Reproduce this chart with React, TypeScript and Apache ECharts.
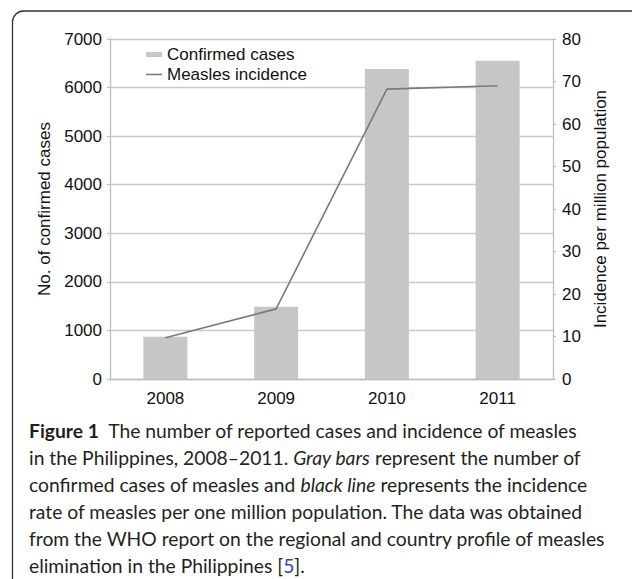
import React, { useEffect, useRef } from "react";
import * as echarts from "echarts";

const years = ["2008", "2009", "2010", "2011"];
const confirmedCases = [870, 1490, 6380, 6550];
const incidence = [9.7, 16.5, 68.2, 69.0];

const captionLines = [
  "{b|Figure 1}  The number of reported cases and incidence of measles",
  "in the Philippines, 2008–2011. {i|Gray bars} represent the number of",
  "confirmed cases of measles and {i|black line} represents the incidence",
  "rate of measles per one million population. The data was obtained",
  "from the WHO report on the regional and country profile of measles",
  "elimination in the Philippines [{l|5}].",
];

const AXIS_FONT = "'Liberation Sans', Arial, sans-serif";
const CAPTION_FONT = "Lato, 'Open Sans', sans-serif";

export default function App() {
  const ref = useRef<HTMLDivElement>(null);
  useEffect(() => {
    document.body.style.margin = "0";
    const chart = echarts.init(ref.current!, null, { renderer: "svg" });
    const captionFontSize = 19.3;
    const plain = (v: number) => String(v);
    chart.setOption({
      animation: false,
      grid: { left: 110, right: 79, top: 39, bottom: 200 },
      legend: {
        orient: "vertical",
        left: 146,
        top: 46,
        padding: 0,
        itemWidth: 16,
        itemHeight: 5,
        itemGap: 3,
        symbolKeepAspect: true,
        textStyle: { fontSize: 17, color: "#111", fontFamily: AXIS_FONT },
        data: [
          { name: "Confirmed cases", icon: "rect" },
          { name: "Measles incidence", icon: "path://M0,0H16V1.6H0Z" },
        ],
      },
      xAxis: {
        type: "category",
        data: years,
        axisLine: { lineStyle: { color: "#bdbdbd", width: 1.3 } },
        axisTick: { show: false },
        axisLabel: { color: "#111", fontSize: 17, fontFamily: AXIS_FONT, margin: 11 },
      },
      yAxis: [
        {
          type: "value",
          position: "left",
          min: 0,
          max: 7000,
          interval: 1000,
          name: "No. of confirmed cases",
          nameLocation: "middle",
          nameRotate: 90,
          nameGap: 52,
          nameTextStyle: { fontSize: 17, color: "#111", fontFamily: AXIS_FONT },
          axisLine: { show: true, lineStyle: { color: "#bdbdbd", width: 1.3 } },
          axisTick: { show: true, length: 3, lineStyle: { color: "#bdbdbd" } },
          axisLabel: { color: "#111", fontSize: 17, fontFamily: AXIS_FONT, margin: 8, formatter: plain },
          splitLine: { show: true, lineStyle: { color: "#c9c9c9", width: 1.3 } },
        },
        {
          type: "value",
          position: "right",
          min: 0,
          max: 80,
          interval: 10,
          name: "Incidence per million population",
          nameLocation: "middle",
          nameRotate: 90,
          nameGap: 37,
          nameTextStyle: { fontSize: 17, color: "#111", fontFamily: AXIS_FONT },
          axisLine: { show: true, lineStyle: { color: "#bdbdbd", width: 1.3 } },
          axisTick: { show: true, length: 3, lineStyle: { color: "#bdbdbd" } },
          axisLabel: { color: "#111", fontSize: 17, fontFamily: AXIS_FONT, margin: 9, formatter: plain },
          splitLine: { show: false },
        },
      ],
      series: [
        {
          name: "Confirmed cases",
          type: "bar",
          yAxisIndex: 0,
          data: confirmedCases,
          barWidth: 44,
          itemStyle: { color: "#c6c6c6" },
        },
        {
          name: "Measles incidence",
          type: "line",
          yAxisIndex: 1,
          data: incidence,
          symbol: "none",
          lineStyle: { color: "#7a7a7a", width: 1.6 },
          itemStyle: { color: "#7a7a7a" },
        },
      ],
      graphic: [
        {
          type: "rect",
          silent: true,
          shape: { x: 12.5, y: 11, width: 800, height: 800, r: 11 },
          style: { fill: "none", stroke: "#333", lineWidth: 1.3 },
        },
        ...captionLines.map((line, i) => ({
          type: "text",
          x: 29,
          y: 430 + i * 27,
          silent: true,
          style: {
            text: line,
            fontSize: captionFontSize,
            fontFamily: CAPTION_FONT,
            fill: "#231f20",
            verticalAlign: "middle",
            rich: {
              b: { fontWeight: "bold", fontSize: captionFontSize, fontFamily: CAPTION_FONT, fill: "#231f20" },
              i: { fontStyle: "italic", fontSize: captionFontSize, fontFamily: CAPTION_FONT, fill: "#231f20" },
              l: { fontSize: captionFontSize, fontFamily: CAPTION_FONT, fill: "#2b3fe0" },
            },
          },
        })),
      ],
    });
    return () => chart.dispose();
  }, []);
  return <div ref={ref} style={{ width: 632, height: 579 }} />;
}
